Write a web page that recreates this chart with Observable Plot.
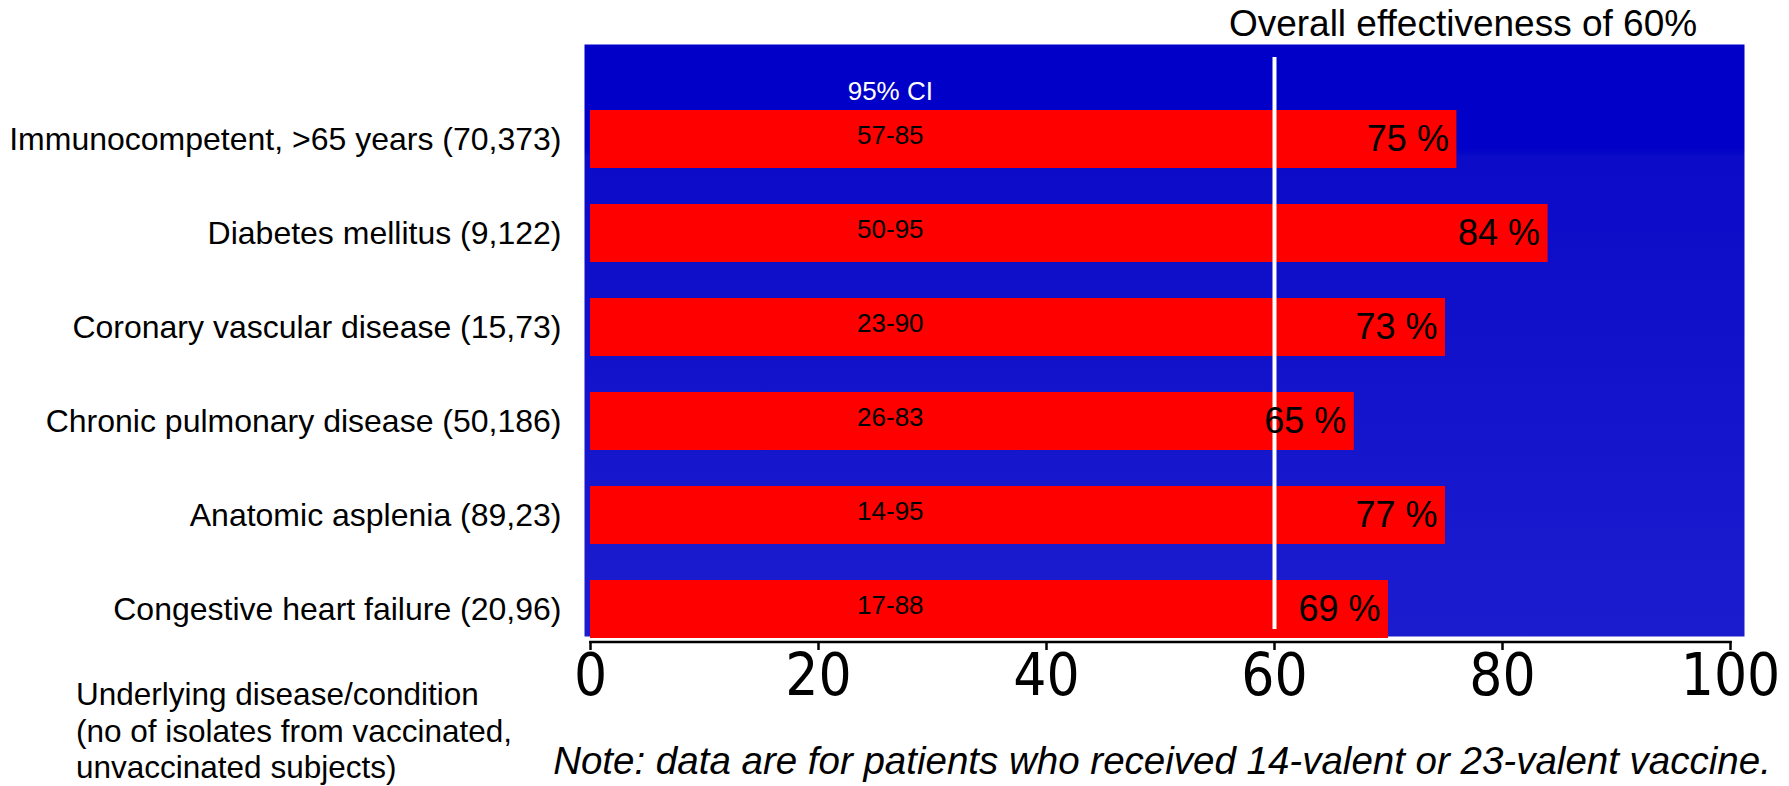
<!DOCTYPE html>
<html><head><meta charset="utf-8">
<script src="https://cdn.jsdelivr.net/npm/d3@7"></script>
<script src="https://cdn.jsdelivr.net/npm/@observablehq/plot@0.6"></script>
<style>
html,body{margin:0;padding:0;background:#fff;}
#wrap{position:relative;width:1789px;height:786px;font-family:"Liberation Sans",Arial,sans-serif;overflow:hidden;}
.ov{position:absolute;white-space:nowrap;color:#000;}
#wrap svg{position:absolute;left:0;top:0;}
</style></head><body>
<div id="wrap"></div>
<script>
// ---- data ----
const categories = [
  "Immunocompetent, >65 years (70,373)",
  "Diabetes mellitus (9,122)",
  "Coronary vascular disease (15,73)",
  "Chronic pulmonary disease (50,186)",
  "Anatomic asplenia (89,23)",
  "Congestive heart failure (20,96)"
];
const barValues = [76, 84, 75, 67, 75, 70];
const effectivenessLabels = ["75 %", "84 %", "73 %", "65 %", "77 %", "69 %"];
const ciLabels = ["57-85", "50-95", "23-90", "26-83", "14-95", "17-88"];
const overallEffectiveness = 60;
const xTicks = [0, 20, 40, 60, 80, 100];
const ciHeader = "95% CI";
const titleText = "Overall effectiveness of 60%";
const yTitleLines = ["Underlying disease/condition", "(no of isolates from vaccinated,", "unvaccinated subjects)"];
const noteText = "Note: data are for patients who received 14-valent or 23-valent vaccine.";

// ---- chart ----
const ciLabelPos = 26.3;
const rows = categories.map((c, i) => ({cat: c, bar: barValues[i], label: effectivenessLabels[i], ci: ciLabels[i]}));
const sans = "'Liberation Sans', Arial, sans-serif";
const narrow = "'Liberation Sans Narrow', 'DejaVu Sans Condensed', 'Liberation Sans', sans-serif";

const plot = Plot.plot({
  width: 1789, height: 786,
  marginLeft: 584, marginRight: 45, marginTop: 44, marginBottom: 150,
  style: {fontFamily: sans, background: "transparent", color: "black", overflow: "visible"},
  x: {domain: [0, 100], insetLeft: 6, insetRight: 14},
  y: {domain: categories, range: [108, 641], paddingInner: 0.379, paddingOuter: 0},
  marks: [
    Plot.frame({fill: "url(#bgGrad)", stroke: null}),
    Plot.barX(rows, {x: "bar", y: "cat", fill: "#FF0000"}),
    Plot.ruleX([overallEffectiveness], {x: d => d, stroke: "white", strokeWidth: 4, insetTop: 13, insetBottom: 7}),
    Plot.ruleX(rows, {x: () => 0, y: "cat", stroke: "white", strokeWidth: 2, dx: -1, insetTop: -35}),
    Plot.text([ciHeader], {x: () => ciLabelPos, text: d => d, frameAnchor: "top", dy: 37.5, fill: "white", fontSize: 26}),
    Plot.text(rows, {x: () => ciLabelPos, y: "cat", text: "ci", fontSize: 26, dy: -4, fill: "black"}),
    Plot.text(rows, {x: "bar", y: "cat", text: "label", textAnchor: "end", dx: -8, fontSize: 36, fill: "black"}),
    Plot.frame({anchor: "bottom", stroke: "black", strokeWidth: 2.5, dy: 5.5, insetLeft: 6, insetRight: 14}),
    Plot.axisX({ticks: xTicks, tickSize: 9, tickPadding: 3, dy: 5, strokeWidth: 2.5, fontSize: 58, fontFamily: narrow, tickFormat: d => String(d), label: null}),
    Plot.axisY({tickSize: 0, tickPadding: 23, fontSize: 32, label: null})
  ]
});

const defs = d3.select(plot).insert("defs", ":first-child");
const grad = defs.append("linearGradient").attr("id", "bgGrad").attr("x1", 0).attr("y1", 0).attr("x2", 0).attr("y2", 1);
[[0, "#0000C8"], [0.175, "#0000C8"], [0.19, "#0B0BC8"], [1, "#1C1CCF"]].forEach(([o, c]) =>
  grad.append("stop").attr("offset", o).attr("stop-color", c));

const wrap = document.getElementById("wrap");
wrap.appendChild(plot);

function overlay(text, css) {
  const d = document.createElement("div");
  d.className = "ov";
  d.textContent = text;
  Object.assign(d.style, css);
  wrap.appendChild(d);
  return d;
}
overlay(titleText, {left: "963px", width: "1000px", top: "5px", textAlign: "center", fontSize: "37px", lineHeight: "37px"});
const yt = document.createElement("div");
yt.className = "ov";
Object.assign(yt.style, {left: "76px", top: "676px", fontSize: "31.5px", lineHeight: "36.5px"});
yt.innerHTML = yTitleLines.map(s => s.replace(/&/g, "&amp;").replace(/</g, "&lt;")).join("<br>");
wrap.appendChild(yt);
overlay(noteText, {left: "462px", width: "1400px", top: "743px", textAlign: "center", fontSize: "38.5px", lineHeight: "36px", fontStyle: "italic"});
</script>
</body></html>
